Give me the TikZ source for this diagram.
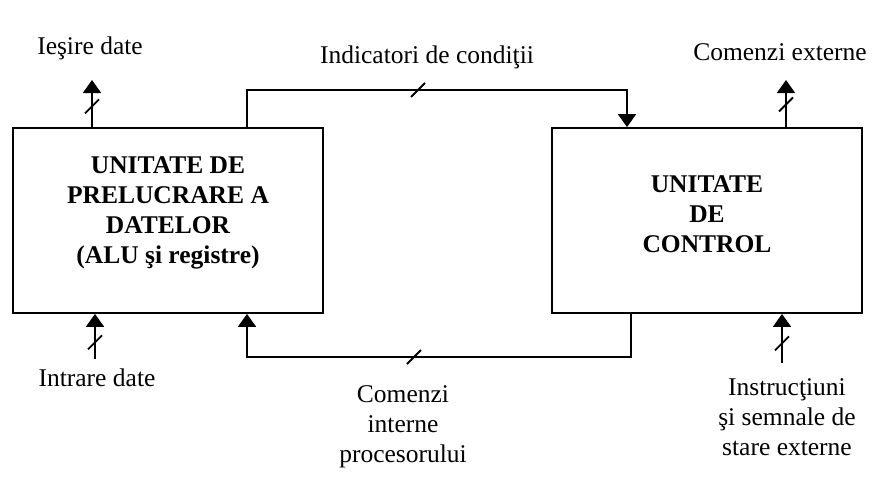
\documentclass[tikz,border=0pt]{standalone}
\usepackage{fontspec}
\setmainfont{Liberation Serif}
\usetikzlibrary{arrows.meta,positioning}

% small slash across a bus line
\newcommand\busmark[1]{\draw[line width=1.8pt] ([shift={(-7,7)}]#1) -- ([shift={(7,-7)}]#1);}

\begin{document}
\begin{tikzpicture}[x=1pt,y=-1pt,>={Triangle[width=18pt,length=13pt]},
                    line width=1.8pt,
                    every node/.style={font=\fontsize{25.5}{30}\selectfont},
                    unit/.style={draw,minimum width=310pt,minimum height=185pt},
                    unittext/.style={align=center,font=\fontsize{25.5}{30}\selectfont\bfseries},
                    lbl/.style={align=center,inner sep=0pt}]
  \useasboundingbox (0,0) rectangle (885,488);

  \node[unit] (dp) at (168,220.5) {};
  \node[unit] (cu) at (707,220.5) {};
  \node[unittext] (dptext) at ([yshift=8pt]dp.center) {UNITATE DE\\PRELUCRARE A\\DATELOR\\(ALU şi registre)};
  \node[unittext] (cutext) at ([yshift=6pt]cu.center) {UNITATE\\DE\\CONTROL};

  \coordinate (dout)  at (92,80);
  \coordinate (din)   at (95,359);
  \coordinate (cext)  at (786,80);
  \coordinate (instr) at (782,363);
  \coordinate (flags) at (418,90);
  \coordinate (cmds)  at (414,357);

  % external buses
  \draw[->] (dout |- dp.north) -- coordinate[pos=0.44] (doutm) (dout);
  \draw[->] (din) -- coordinate[pos=0.37] (dinm) (din |- dp.south);
  \draw[->] (cext |- cu.north) -- coordinate[pos=0.48] (cextm) (cext);
  \draw[->] (instr) -- coordinate[pos=0.4] (instrm) (instr |- cu.south);

  % internal buses
  \draw[->] ([xshift=79pt]dp.north) |- (flags) -| ([xshift=-80pt]cu.north);
  \draw[->] ([xshift=-76pt]cu.south) |- (cmds) -| ([xshift=79pt]dp.south);

  \busmark{doutm}
  \busmark{dinm}
  \busmark{cextm}
  \busmark{instrm}
  \busmark{flags}
  \busmark{cmds}

  \node[lbl] (doutl)  at (90,48)   {Ieşire date};
  \node[lbl] (dinl)   at (97,378)  {Intrare date};
  \node[lbl] (cextl)  at (780,52)  {Comenzi externe};
  \node[lbl] (flagsl) at (427,57)  {Indicatori de condiţii};
  \node[lbl] (cmdsl)  at (403,427) {Comenzi\\interne\\procesorului};
  \node[lbl] (instrl) at (787,417) {Instrucţiuni\\şi semnale de\\stare externe};
\end{tikzpicture}
\end{document}
